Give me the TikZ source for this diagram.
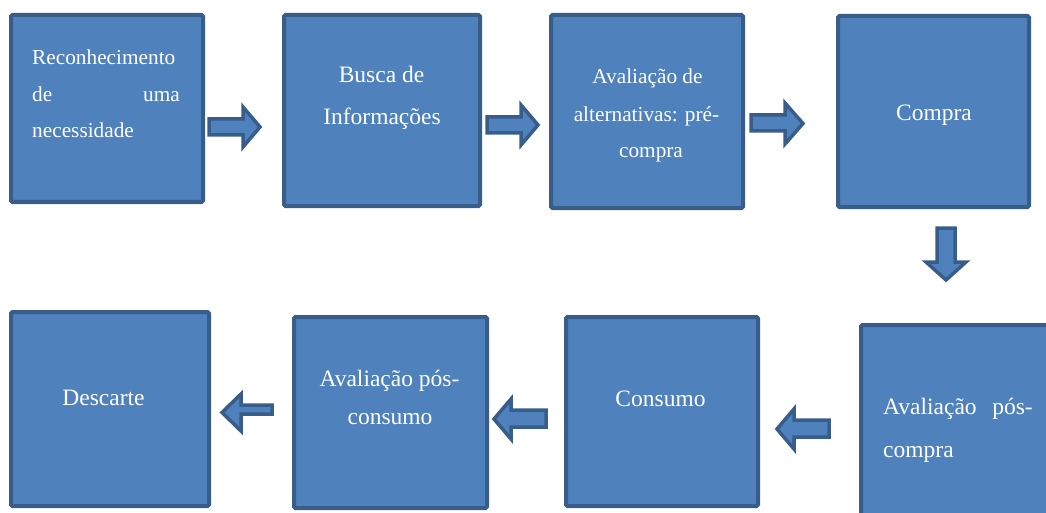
\documentclass[tikz,border=0pt]{standalone}
\usepackage{fontspec}
\setmainfont{Liberation Serif}
\newfontfamily\tnr{Liberation Serif}
\definecolor{boxfill}{HTML}{4F81BD}
\definecolor{boxline}{HTML}{385D8A}
\begin{document}
\begin{tikzpicture}[x=1pt,y=-1pt,
  box/.style={draw=boxline, fill=boxfill, line width=4pt, rounded corners=1.5pt, inner sep=0pt},
  barrow/.style={draw=boxline, fill=boxfill, line width=3.5pt, line join=miter},
  lbl/.style={text=white, font=\tnr\fontsize{23.5}{28}\selectfont, inner sep=0pt},
  lbls/.style={text=white, font=\tnr\fontsize{21.3}{26}\selectfont, inner sep=0pt},
]
\useasboundingbox (0,0) rectangle (1046,513);
\clip (0,0) rectangle (1046,513);

% boxes
\node[box, minimum width=192pt, minimum height=187pt] (b1) at (107,108.5) {};
\node[box, minimum width=196pt, minimum height=191pt] (b2) at (382,110.5) {};
\node[box, minimum width=192pt, minimum height=193pt] (b3) at (647,111.5) {};
\node[box, minimum width=191pt, minimum height=191pt] (b4) at (933.5,111.5) {};
\node[box, minimum width=209pt, minimum height=205pt] (b5) at (965.5,427.5) {};
\node[box, minimum width=192pt, minimum height=189pt] (b6) at (662,411.5) {};
\node[box, minimum width=193pt, minimum height=191pt] (b7) at (390.5,412.5) {};
\node[box, minimum width=198pt, minimum height=194pt] (b8) at (110,409) {};

% texts
\node[lbls, anchor=base west] (t1a) at (32,65) {Reconhecimento};
\node[lbls, anchor=base west] (t1b) at (32,102) {de};
\node[lbls, anchor=base east] (t1c) at (180,102) {uma};
\node[lbls, anchor=base west] (t1d) at (32,138) {necessidade};

\node[lbl, anchor=base] (t2a) at (381.5,83) {Busca de};
\node[lbl, anchor=base] (t2b) at (382,125) {Informações};

\node[lbls, anchor=base] (t3a) at (647.5,84) {Avaliação de};
\node[lbls, anchor=base] (t3b) at (646.5,122) {alternativas: pré-};
\node[lbls, anchor=base] (t3c) at (651,158) {compra};

\node[lbl, anchor=base] (t4) at (934,121) {Compra};

\node[lbl, anchor=base west] (t5a) at (883,414) {Avaliação};
\node[lbl, anchor=base east] (t5b) at (1033,414) {pós-};
\node[lbl, anchor=base west] (t5c) at (883,457) {compra};

\node[lbl, anchor=base] (t6) at (660.5,406) {Consumo};

\node[lbl, anchor=base] (t7a) at (389.5,386) {Avaliação pós-};
\node[lbl, anchor=base] (t7b) at (390,424) {consumo};

\node[lbl, anchor=base] (t8) at (103.5,405) {Descarte};

% block arrows
\path[barrow] (209,119) -- (243,119) -- (243,107) -- (260,127) -- (243,147) -- (243,135) -- (209,135) -- cycle;
\path[barrow] (487,117) -- (521,117) -- (521,105) -- (538,125) -- (521,145) -- (521,133) -- (487,133) -- cycle;
\path[barrow] (751,115) -- (785,115) -- (785,103) -- (803,123.5) -- (785,144) -- (785,131) -- (751,131) -- cycle;
\path[barrow] (937,228) -- (937,262) -- (926,262) -- (946,280) -- (966,262) -- (955,262) -- (955,228) -- cycle;
\path[barrow] (829,420) -- (794,420) -- (794,409) -- (777,429) -- (794,449) -- (794,437) -- (829,437) -- cycle;
\path[barrow] (546,410) -- (511,410) -- (511,399) -- (494,419) -- (511,439) -- (511,427) -- (546,427) -- cycle;
\path[barrow] (272,405) -- (241,405) -- (241,394) -- (222,412.5) -- (241,431) -- (241,414) -- (272,414) -- cycle;
\end{tikzpicture}
\end{document}
